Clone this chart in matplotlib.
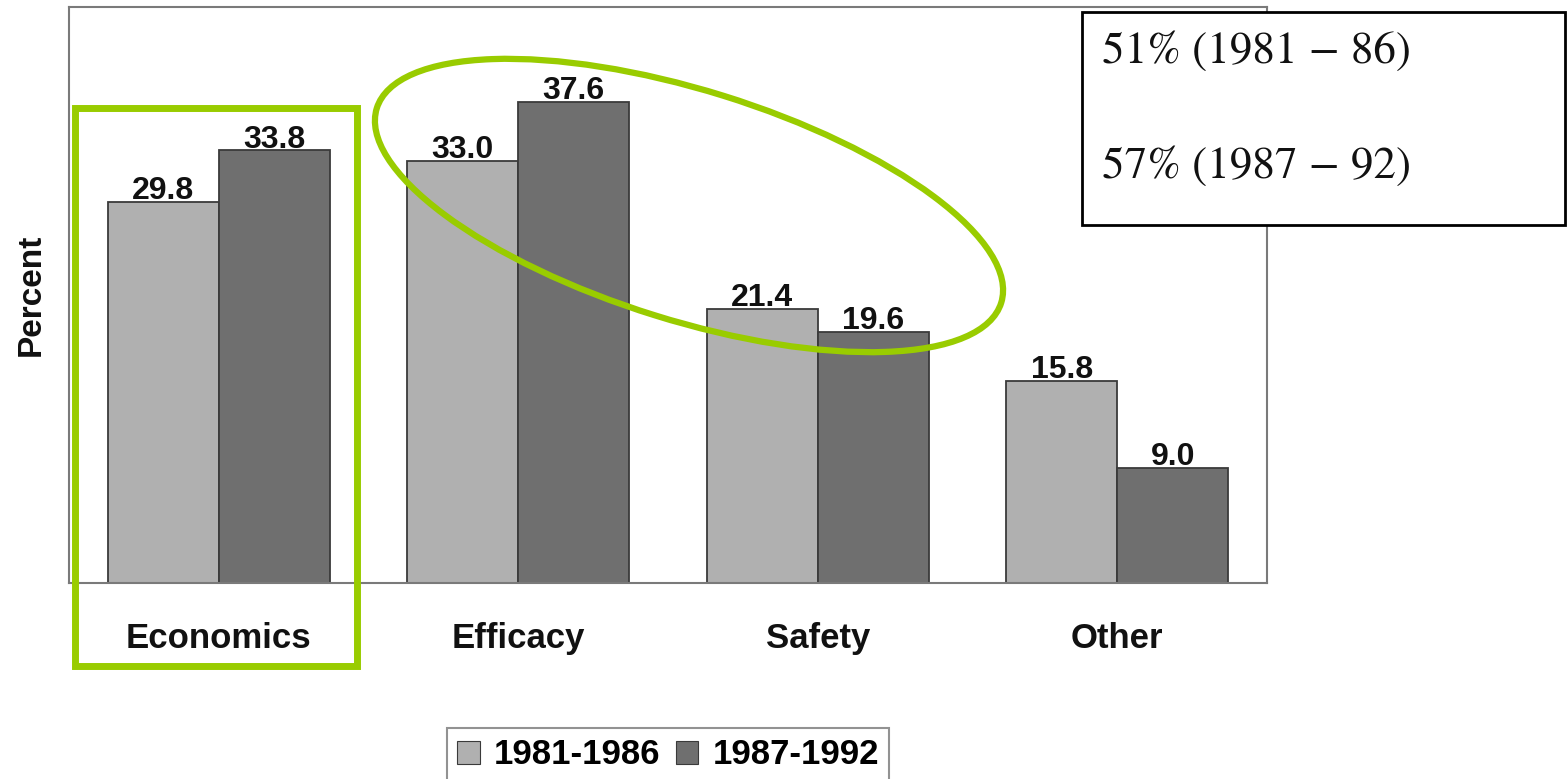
import numpy as np
import matplotlib
matplotlib.use("Agg")
import matplotlib.pyplot as plt
from matplotlib.patches import Ellipse, Rectangle, Patch
from matplotlib.transforms import Affine2D

# Reasons for discontinuation of drug development, two periods
categories = ["Economics", "Efficacy", "Safety", "Other"]
period_labels = ["1981-1986", "1987-1992"]
values_1981_86 = [29.8, 33.0, 21.4, 15.8]
values_1987_92 = [33.8, 37.6, 19.6, 9.0]
summary_lines = ["51% (1981 \u2212 86)", "57% (1987 \u2212 92)"]

W, H = 1567, 779
DPI = 100
plt.rcParams["font.family"] = ["Liberation Sans", "DejaVu Sans"]

fig = plt.figure(figsize=(W / DPI, H / DPI), dpi=DPI)
fig.patch.set_facecolor("white")

# Pixel-space transform with origin at the top-left corner
pix = Affine2D().scale(1 / DPI, -1 / DPI).translate(0, H / DPI) + fig.dpi_scale_trans

ax = fig.add_axes([69 / W, 1 - 583 / H, (1267 - 69) / W, (583 - 7) / H])

light = "#b0b0b0"
dark = "#6f6f6f"
edge = "#3a3a3a"
x = np.arange(len(categories))
w = 0.37
b1 = ax.bar(x - w / 2, values_1981_86, w, color=light, edgecolor=edge, linewidth=1.3)
b2 = ax.bar(x + w / 2, values_1987_92, w, color=dark, edgecolor=edge, linewidth=1.3)

for bars, vals in ((b1, values_1981_86), (b2, values_1987_92)):
    ax.bar_label(bars, labels=[f"{v:.1f}" for v in vals], padding=-3,
                 fontsize=23, fontweight="bold", color="#111111")

ax.set_xlim(-0.5, len(categories) - 0.5)
ax.set_ylim(0, 45)
ax.set_yticks([])
ax.set_xticks(x)
ax.set_xticklabels(categories, fontsize=25, fontweight="bold", color="#111111")
ax.tick_params(axis="x", length=0, pad=28)
ax.set_ylabel("Percent", fontsize=24, fontweight="bold", labelpad=16, color="#111111")
for s in ax.spines.values():
    s.set_color("#7a7a7a")
    s.set_linewidth(1.5)

# Legend below the plot
handles = [Patch(facecolor=light, edgecolor=edge, linewidth=0.8),
           Patch(facecolor=dark, edgecolor=edge, linewidth=0.8)]
leg = fig.legend(handles, period_labels, loc="upper center", ncol=2,
                 bbox_to_anchor=(668 / W, 1 - 728 / H), borderaxespad=0,
                 prop={"size": 25, "weight": "bold"}, fancybox=False,
                 handlelength=0.65, handleheight=0.65, handletextpad=0.4,
                 columnspacing=0.45, borderpad=0.3, frameon=True)
leg.get_frame().set_edgecolor("#777777")
leg.get_frame().set_linewidth(1.5)

# Highlight shapes
green = "#99cc00"
fig.add_artist(Rectangle((75, 108), 357 - 75, 666 - 108, fill=False,
                         edgecolor=green, linewidth=5, transform=pix, zorder=5))
fig.add_artist(Ellipse((689, 205.5), 654, 230, angle=17.3, fill=False,
                       edgecolor=green, linewidth=4.5, transform=pix, zorder=5))

# Summary box in the upper right
fig.add_artist(Rectangle((1082, 12), 1565 - 1082, 225 - 12, facecolor="white",
                         edgecolor="black", linewidth=2, transform=pix, zorder=6))
for txt, yb in zip(summary_lines, (63, 178)):
    fig.text(1102, yb, txt, transform=pix, ha="left", va="baseline",
             fontsize=32.5, family=["STIXGeneral", "DejaVu Serif"],
             color="#111111", zorder=7)

fig.savefig("out.png", dpi=DPI, facecolor="white")
